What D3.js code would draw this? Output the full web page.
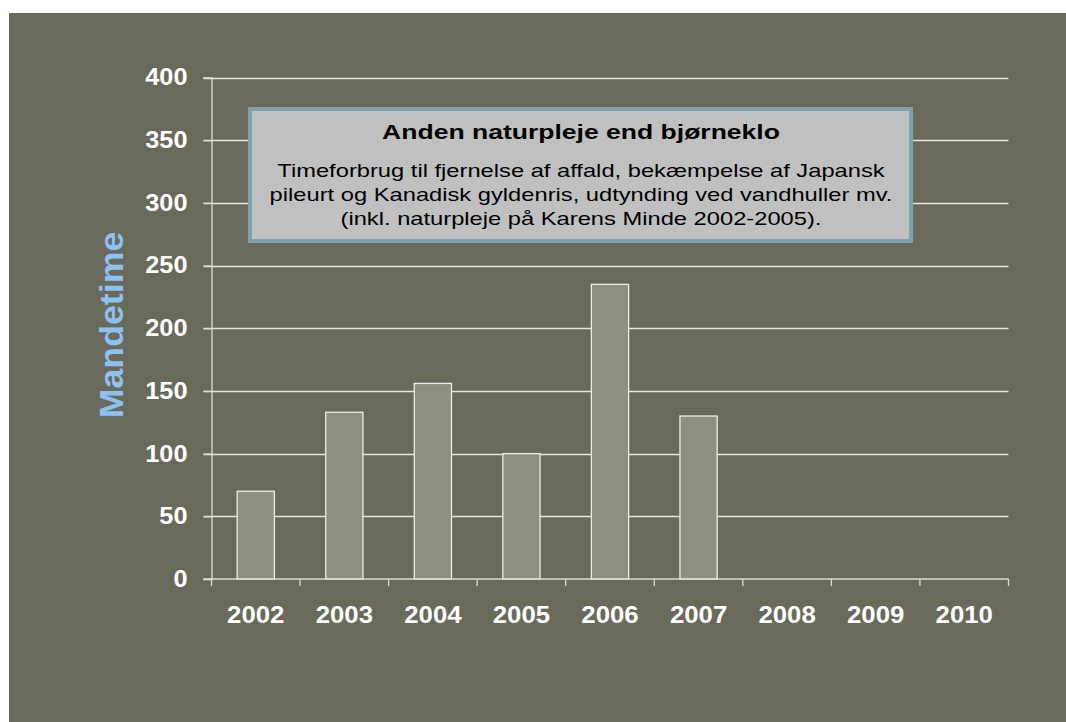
<!DOCTYPE html>
<html>
<head>
  <meta charset="utf-8">
  <script src="https://cdn.jsdelivr.net/npm/d3@7"></script>
<style>
  body { margin: 0; background: #ffffff; }
  text { font-family: Arial, "Liberation Sans", sans-serif; }
</style>
</head>
<body>
<script>
  // data
  var years = ["2002", "2003", "2004", "2005", "2006", "2007", "2008", "2009", "2010"];
  var hours = [70, 133, 156, 100, 235, 130, null, null, null];
  var yTicks = [0, 50, 100, 150, 200, 250, 300, 350, 400];
  var noteTitle = "Anden naturpleje end bjørneklo";
  var noteLines = ["Timeforbrug til fjernelse af affald, bekæmpelse af Japansk",
                   "pileurt og Kanadisk gyldenris, udtynding ved vandhuller mv.",
                   "(inkl. naturpleje på Karens Minde 2002-2005)."];

  var W = 1066, H = 722;
  var plotL = 211.5, plotR = 1008.5, plotT = 77.5, plotB = 579;

  // the source text is drawn a bit wider than plain Arial
  function stretch(sel, k) {
    sel.each(function () {
      var len = this.getComputedTextLength();
      d3.select(this).attr("textLength", len * k).attr("lengthAdjust", "spacingAndGlyphs");
    });
  }

  var svg = d3.select("body").append("svg")
      .attr("width", W)
      .attr("height", H);

  // chart background
  svg.append("rect")
      .attr("x", 9).attr("y", 13)
      .attr("width", W - 9).attr("height", H - 13)
      .attr("fill", "#696a5c");

  var x = d3.scaleBand().domain(years).range([plotL, plotR]).paddingInner(0.58).paddingOuter(0.29);
  var xb = d3.scaleBand().domain(years).range([plotL, plotR]);
  var y = d3.scaleLinear().domain([0, 400]).range([plotB, plotT]);

  // gridlines + outward ticks
  svg.append("g").selectAll("line")
      .data(yTicks.filter(function (d) { return d > 0; }))
      .enter().append("line")
      .attr("x1", plotL - 8).attr("x2", plotR)
      .attr("y1", function (d) { return Math.round(y(d)) + 0.5; })
      .attr("y2", function (d) { return Math.round(y(d)) + 0.5; })
      .attr("stroke", "#e6e6e0").attr("stroke-width", 1.3);

  // bars
  svg.append("g").selectAll("rect")
      .data(years.map(function (d, i) { return {year: d, v: hours[i]}; })
                 .filter(function (d) { return d.v != null; }))
      .enter().append("rect")
      .attr("x", function (d) { return x(d.year); })
      .attr("width", x.bandwidth())
      .attr("y", function (d) { return y(d.v); })
      .attr("height", function (d) { return plotB - y(d.v); })
      .attr("fill", "#8e8f80")
      .attr("stroke", "#ececea").attr("stroke-width", 1.3);

  // y axis
  var yAxis = svg.append("g").attr("transform", "translate(" + plotL + ",0)")
      .call(d3.axisLeft(y).tickValues(yTicks).tickSize(8).tickPadding(16));
  yAxis.select(".domain").attr("stroke", "#dcdcd6").attr("stroke-width", 1.3);
  yAxis.selectAll(".tick line").attr("stroke", "#dcdcd6").attr("stroke-width", 1.3);
  yAxis.selectAll("text")
      .attr("fill", "#ffffff").attr("font-size", "23px").attr("font-weight", "bold")
      .style("font-family", "Arial, 'Liberation Sans', sans-serif")
      .call(stretch, 1.1);

  // x axis, ticks sit on category boundaries
  var xAxis = svg.append("g").attr("transform", "translate(0," + plotB + ")")
      .call(d3.axisBottom(xb).tickSize(0).tickPadding(28));
  xAxis.select(".domain").remove();
  xAxis.append("line")
      .attr("x1", plotL - 8).attr("x2", plotR)
      .attr("stroke", "#dcdcd6").attr("stroke-width", 1.5);
  xAxis.selectAll(".bound")
      .data(years.concat(["end"]))
      .enter().append("line")
      .attr("class", "bound")
      .attr("x1", function (d, i) { return plotL + i * xb.step(); })
      .attr("x2", function (d, i) { return plotL + i * xb.step(); })
      .attr("y1", 0).attr("y2", 7)
      .attr("stroke", "#dcdcd6").attr("stroke-width", 1.3);
  xAxis.selectAll(".tick text")
      .attr("fill", "#ffffff").attr("font-size", "23px").attr("font-weight", "bold")
      .style("font-family", "Arial, 'Liberation Sans', sans-serif")
      .call(stretch, 1.12);

  // y axis title
  svg.append("text")
      .attr("transform", "translate(123,325) rotate(-90)")
      .attr("text-anchor", "middle")
      .attr("fill", "#8ec0f0")
      .attr("font-size", "34px").attr("font-weight", "bold")
      .text("Mandetime")
      .call(stretch, 1.05);

  // note box
  var note = svg.append("g");
  note.append("rect")
      .attr("x", 250).attr("y", 109)
      .attr("width", 661).attr("height", 132)
      .attr("fill", "#c0c0c0")
      .attr("stroke", "#7fa0ae").attr("stroke-width", 4);
  note.append("text")
      .attr("x", 581).attr("y", 139)
      .attr("text-anchor", "middle")
      .attr("fill", "#000000")
      .attr("font-size", "19.5px").attr("font-weight", "bold")
      .text(noteTitle)
      .call(stretch, 1.36);
  note.selectAll(".ln")
      .data(noteLines)
      .enter().append("text")
      .attr("class", "ln")
      .attr("x", 581)
      .attr("y", function (d, i) { return 177 + i * 24; })
      .attr("text-anchor", "middle")
      .attr("fill", "#000000")
      .attr("font-size", "17.7px")
      .text(function (d) { return d; })
      .call(stretch, 1.34);
</script>
</body>
</html>
